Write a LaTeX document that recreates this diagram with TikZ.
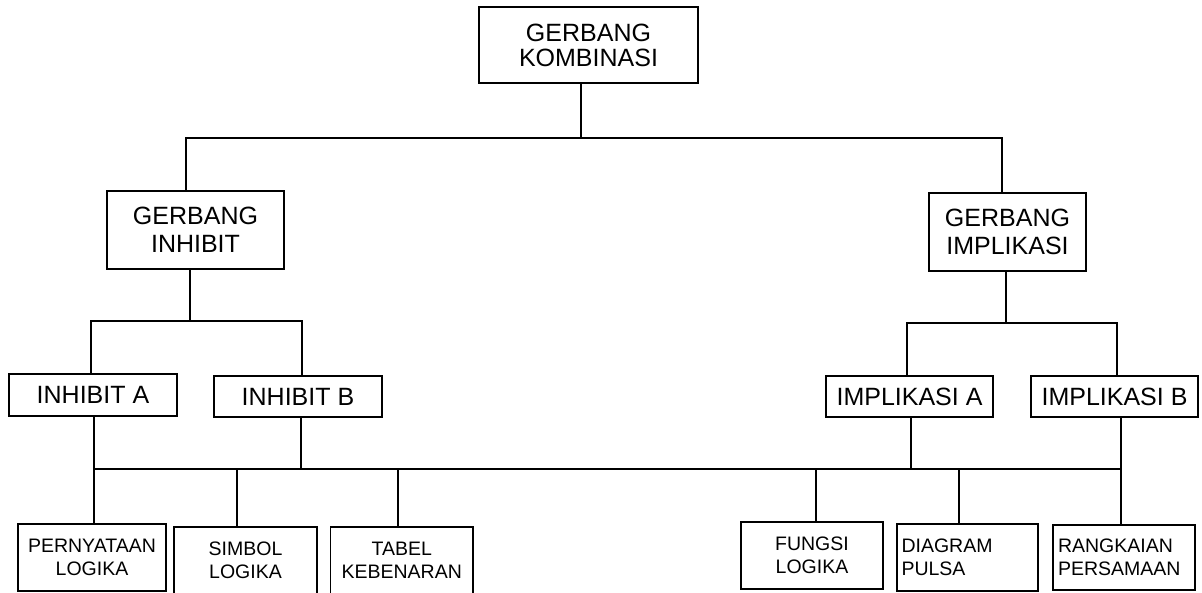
\documentclass[tikz,border=0pt]{standalone}
\usepackage{fontspec}
\setmainfont{Liberation Sans}
\begin{document}
\begin{tikzpicture}[x=1pt,y=-1pt,
  box/.style={draw, line width=1.2pt, inner sep=0pt, align=center},
  bigtxt/.style={font=\fontsize{25}{28}\selectfont},
  toptxt/.style={font=\fontsize{25}{25}\selectfont},
  smalltxt/.style={font=\fontsize{19.5}{23.5}\selectfont},
  wire/.style={line width=2.4pt}]
\useasboundingbox (0,0) rectangle (1202,592);
\clip (0,0) rectangle (1202,592);

% level 0
\node[box, toptxt, minimum width=219pt, minimum height=76pt] (kom) at (588.5,45) {GERBANG\\KOMBINASI};

% level 1
\node[box, bigtxt, minimum width=177pt, minimum height=78pt] (inh) at (195.5,230) {GERBANG\\INHIBIT};
\node[box, bigtxt, minimum width=157pt, minimum height=78pt] (imp) at (1007.5,232) {GERBANG\\IMPLIKASI};

% level 2
\node[box, bigtxt, minimum width=168pt, minimum height=42pt] (ia) at (93,395) {INHIBIT A};
\node[box, bigtxt, minimum width=168pt, minimum height=41pt] (ib) at (298,396.5) {INHIBIT B};
\node[box, bigtxt, minimum width=167pt, minimum height=41pt] (ma) at (909.5,396.5) {IMPLIKASI A};
\node[box, bigtxt, minimum width=167pt, minimum height=41pt] (mb) at (1114.5,396.5) {IMPLIKASI B};

% level 3
\node[box, smalltxt, minimum width=148pt, minimum height=67pt] (pl) at (92,557.5) {PERNYATAAN\\LOGIKA};
\node[box, smalltxt, minimum width=143pt, minimum height=67pt] (sl) at (245.5,560.5) {SIMBOL\\LOGIKA};
\node[box, smalltxt, minimum width=142.5pt, minimum height=67pt] (tk) at (401.75,560.5) {TABEL\\KEBENARAN};
\node[box, smalltxt, minimum width=142pt, minimum height=67pt] (fl) at (812,555.5) {FUNGSI\\LOGIKA};
\node[box, smalltxt, align=left, text width=132pt, inner xsep=4.5pt, minimum height=67pt] (dp) at (967.5,557.5) {DIAGRAM\\PULSA};
\node[box, smalltxt, align=left, text width=132pt, inner xsep=5pt, minimum height=65pt] (rp) at (1124,557.5) {RANGKAIAN\\PERSAMAAN};

% bus junctions
\coordinate (j0) at (581,138);
\coordinate (j1) at (190,321);
\coordinate (j2) at (1006,323);
\coordinate (j3) at (94,469);

% top split
\draw[wire] (kom.south -| j0) -- (j0);
\draw[wire] (inh.north -| 186,0) -- (186,138) -- (1002,138) -- (imp.north -| 1002,0);

% inhibit split
\draw[wire] (inh.south -| j1) -- (j1);
\draw[wire] (ia.north -| 91,0) -- (91,321) -- (302,321) -- (ib.north -| 302,0);

% implikasi split
\draw[wire] (imp.south -| j2) -- (j2);
\draw[wire] (ma.north -| 907,0) -- (907,323) -- (1117,323) -- (mb.north -| 1117,0);

% common lower bus
\draw[wire] (94,469) -- (1122,469);
\draw[wire] (ia.south -| j3) -- (pl.north -| j3);
\draw[wire] (ib.south -| 301,0) -- (301,469);
\draw[wire] (ma.south -| 911,0) -- (911,469);
\draw[wire] (mb.south -| 1121,0) -- (rp.north -| 1121,0);
\draw[wire] (237,469) -- (sl.north -| 237,0);
\draw[wire] (398,469) -- (tk.north -| 398,0);
\draw[wire] (816,469) -- (fl.north -| 816,0);
\draw[wire] (959,469) -- (dp.north -| 959,0);
\end{tikzpicture}
\end{document}
